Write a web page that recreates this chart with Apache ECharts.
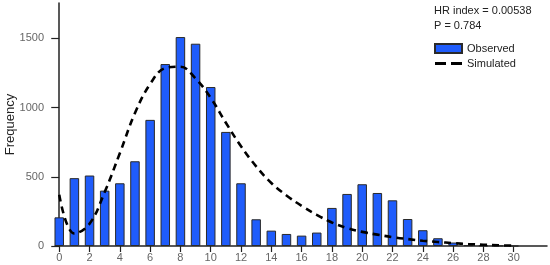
<!DOCTYPE html>
<html>
<head>
<meta charset="utf-8">
<script src="https://cdn.jsdelivr.net/npm/echarts@6/dist/echarts.min.js"></script>
<style>
  html, body { margin: 0; padding: 0; background: #fff; }
  #chart { width: 550px; height: 265px; }
</style>
</head>
<body>
<div id="chart"></div>
<script>
// values
const bins = [0, 1, 2, 3, 4, 5, 6, 7, 8, 9, 10, 11, 12, 13, 14, 15, 16, 17, 18, 19, 20, 21, 22, 23, 24, 25, 26, 27, 28, 29, 30];
const observed = [207, 490, 509, 400, 453, 612, 911, 1314, 1509, 1461, 1148, 824, 453, 193, 111, 87, 75, 97, 275, 376, 446, 383, 330, 195, 114, 56, 25, 6, 3, 2, 0];
const simulated = [370, 90, 160, 390, 670, 960, 1170, 1285, 1295, 1210, 1070, 890, 720, 575, 455, 365, 290, 225, 170, 130, 102, 82, 64, 50, 38, 29, 21, 14, 9, 5, 3];
const xTicks = [0, 2, 4, 6, 8, 10, 12, 14, 16, 18, 20, 22, 24, 26, 28, 30];
const yTicks = [0, 500, 1000, 1500];
const hrIndex = "0.00538";
const pValue = "0.784";

const font = "Liberation Sans, Arial, sans-serif";
const chart = echarts.init(document.getElementById("chart"), null, { renderer: "canvas" });

// two dashes for the simulated legend entry
const dashIcon = "path://M0,0H11V3H0Z M16,0H27V3H16Z";

const option = {
  animation: false,
  textStyle: { fontFamily: font },
  title: [
    { text: "HR index = " + hrIndex, left: 434, top: 5, padding: 0, textStyle: { fontSize: 11, fontWeight: "normal", color: "#222", fontFamily: font } },
    { text: "P = " + pValue, left: 434, top: 20, padding: 0, textStyle: { fontSize: 11, fontWeight: "normal", color: "#222", fontFamily: font } }
  ],
  legend: {
    orient: "vertical",
    left: 429,
    top: 38,
    itemWidth: 27,
    itemHeight: 9,
    itemGap: 4,
    textStyle: { fontSize: 11, color: "#222", fontFamily: font },
    data: [
      { name: "Observed", icon: "rect" },
      { name: "Simulated", icon: dashIcon, itemStyle: { color: "#000", borderWidth: 0 } }
    ]
  },
  grid: { left: 55, right: 3, top: 3, bottom: 19, containLabel: false, outerBoundsMode: "none" },
  xAxis: {
    type: "value",
    min: -0.28,
    max: 32.2,
    splitLine: { show: false },
    axisLine: { lineStyle: { color: "#222", width: 1.5 } },
    axisTick: { customValues: xTicks, length: 6, lineStyle: { color: "#222", width: 1.2 } },
    axisLabel: { customValues: xTicks, fontSize: 11, color: "#666", margin: 6, fontFamily: font }
  },
  yAxis: {
    type: "value",
    name: "Frequency",
    nameLocation: "middle",
    nameGap: 38,
    nameMoveOverlap: false,
    nameTextStyle: { fontSize: 13, color: "#222", fontFamily: font },
    min: 0,
    max: 1755,
    splitLine: { show: false },
    axisLine: { show: true, lineStyle: { color: "#222", width: 1.5 } },
    axisTick: { show: true, customValues: yTicks, length: 8, lineStyle: { color: "#222", width: 1.2 } },
    axisLabel: { customValues: yTicks, formatter: v => String(v), fontSize: 11, color: "#666", margin: 11, fontFamily: font }
  },
  series: [
    {
      name: "Observed",
      type: "bar",
      barWidth: 9.5,
      data: bins.map((b, i) => [b, observed[i]]),
      itemStyle: { color: "#1f5cfb", borderColor: "#2a2a2a", borderWidth: 1 }
    },
    {
      name: "Simulated",
      type: "line",
      smooth: 0.4,
      symbol: "none",
      data: bins.map((b, i) => [b, simulated[i]]),
      lineStyle: { color: "#000", width: 2.6, type: [7, 5] },
      itemStyle: { color: "#000" }
    }
  ]
};

chart.setOption(option);
</script>
</body>
</html>
